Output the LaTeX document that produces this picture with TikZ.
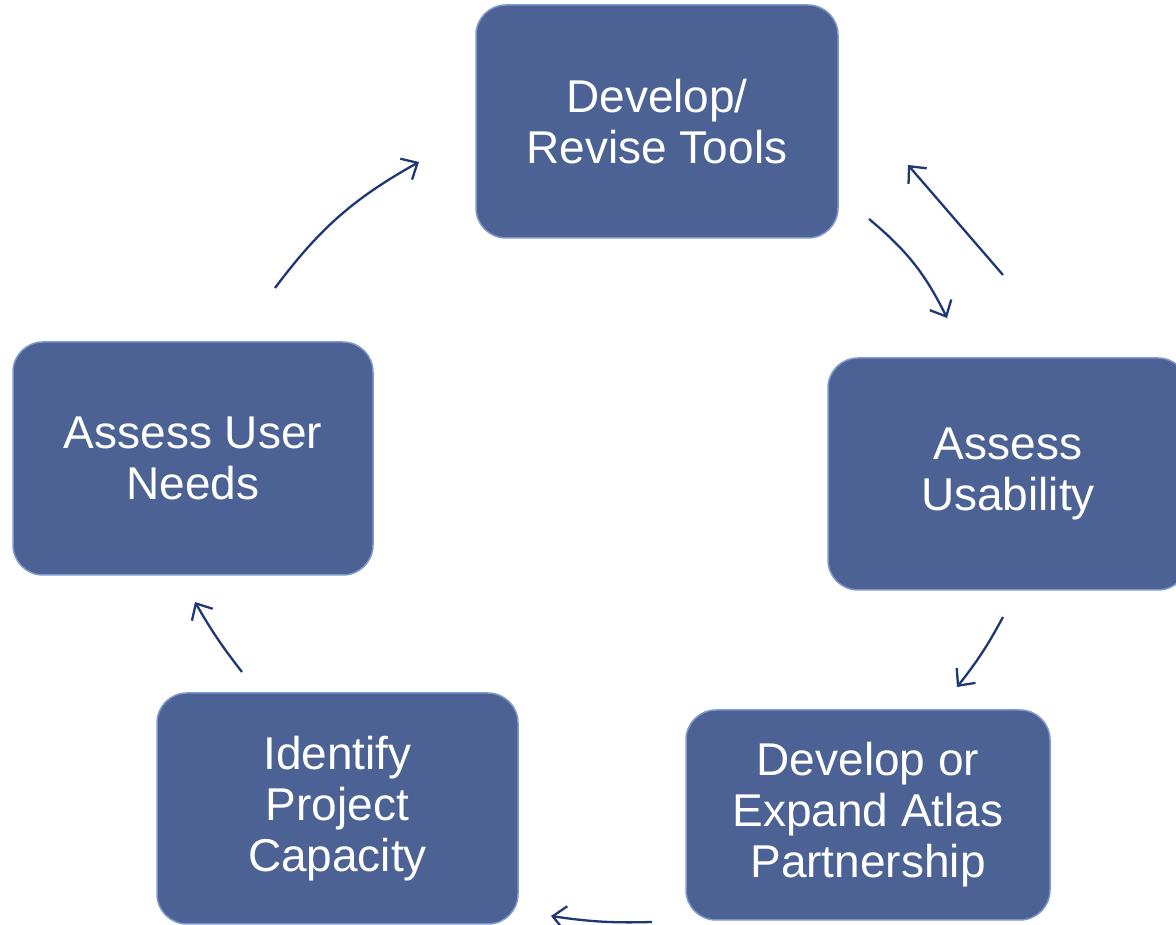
\documentclass[tikz,border=0pt]{standalone}
\usepackage{fontspec}
\setmainfont{Liberation Sans}
\usepackage{tikz}
\usetikzlibrary{arrows.meta}
\definecolor{boxfill}{HTML}{4C6294}
\definecolor{boxrim}{HTML}{7D98CC}
\definecolor{arrowcol}{HTML}{1E3775}

\begin{document}
\begin{tikzpicture}[line join=bevel,
  stage/.style={draw=boxrim, line width=1.5bp, fill=boxfill, rounded corners=30bp,
    inner sep=0pt, align=center, text=white,
    font=\fontsize{46bp}{51bp}\selectfont},
  flow/.style={draw=arrowcol, line width=2.3bp,
    -{Straight Barb[length=13bp,width=24bp,line width=2.3bp]}},
]
\useasboundingbox (0bp,0bp) rectangle (1176bp,925bp);
\clip (0bp,0bp) rectangle (1176bp,925bp);
%%
  \node (tools) at (657bp,803.5bp) [stage, minimum width=362bp, minimum height=233bp] {Develop/\\Revise Tools};
  \node (usab) at (1008bp,451bp) [stage, minimum width=360bp, minimum height=232bp] {Assess\\Usability};
  \node (partner) at (868bp,110bp) [stage, minimum width=364bp, minimum height=210bp] {Develop or\\Expand Atlas\\Partnership};
  \node (capac) at (337.5bp,116.5bp) [stage, minimum width=361bp, minimum height=231bp] {Identify\\Project\\Capacity};
  \node (needs) at (193bp,466.5bp) [stage, minimum width=360bp, minimum height=233bp] {Assess User\\Needs};
%
  \coordinate (a1s) at (275bp,637bp);
  \coordinate (a1e) at (419bp,763bp);
  \coordinate (a2s) at (869bp,706bp);
  \coordinate (a2e) at (947bp,607bp);
  \coordinate (a3s) at (1003bp,650bp);
  \coordinate (a3e) at (908bp,760bp);
  \coordinate (a4s) at (1003bp,308bp);
  \coordinate (a4e) at (957bp,238bp);
  \coordinate (a5s) at (652bp,3bp);
  \coordinate (a5e) at (551bp,9bp);
  \coordinate (a6s) at (242bp,253bp);
  \coordinate (a6e) at (195bp,323bp);
%
  \draw [flow] (a1s) to[bend left=12] (a1e);
  \draw [flow] (a2s) to[bend left=12] (a2e);
  \draw [flow] (a3s) -- (a3e);
  \draw [flow] (a4s) to[bend left=5] (a4e);
  \draw [flow] (a5s) to[bend left=5] (a5e);
  \draw [flow] (a6s) to[bend left=4] (a6e);
%
\end{tikzpicture}
\end{document}
